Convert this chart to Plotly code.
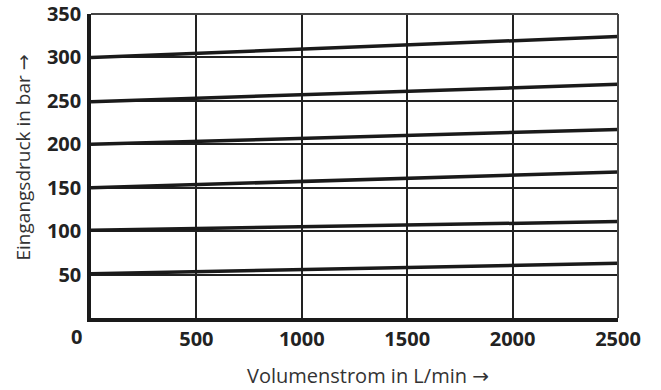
import plotly.graph_objects as go

# Data
flow = [0, 2500]  # Volumenstrom in L/min
curves = {
    "300 bar": [300, 324],
    "250 bar": [249, 269],
    "200 bar": [200, 217],
    "150 bar": [150, 168],
    "100 bar": [101, 111],
    "50 bar": [51, 63],
}
x_ticks = [500, 1000, 1500, 2000, 2500]
y_ticks = [50, 100, 150, 200, 250, 300, 350]

tick_font = dict(family="Open Sans", size=20, color="#222", weight="bold")
ARROW = "<span style='font-family:DejaVu Sans'>\u2192</span>"

fig = go.Figure()
for name, vals in curves.items():
    fig.add_trace(go.Scatter(x=flow, y=vals, mode="lines", name=name,
                             line=dict(color="#1a1a1a", width=3.5),
                             showlegend=False, hoverinfo="skip"))

fig.update_layout(
    width=661, height=390,
    margin=dict(l=91, r=43, t=14, b=72),
    paper_bgcolor="white", plot_bgcolor="white",
    xaxis=dict(range=[0, 2500], tickvals=x_ticks,
               ticktext=[str(v) for v in x_ticks],
               showgrid=True, gridcolor="#222", gridwidth=1.5,
               showline=True, linecolor="#1a1a1a", linewidth=3.5,
               ticks="",
               tickfont=tick_font, zeroline=False, automargin=False,
               layer="above traces"),
    yaxis=dict(range=[0, 350], tickvals=y_ticks,
               ticktext=[str(v) for v in y_ticks],
               showgrid=True, gridcolor="#222", gridwidth=1.5,
               showline=True, linecolor="#1a1a1a", linewidth=3.5,
               ticks="outside", ticklen=2, tickcolor="rgba(0,0,0,0)",
               tickfont=tick_font, zeroline=False, automargin=False,
               layer="above traces"),
    shapes=[
        dict(type="line", xref="paper", yref="paper", x0=0, x1=1, y0=1, y1=1,
             line=dict(color="#444", width=2)),
        dict(type="line", xref="paper", yref="paper", x0=1, x1=1, y0=0, y1=1,
             line=dict(color="#444", width=2)),
    ],
    annotations=[
        dict(text="0", xref="paper", yref="paper", x=-0.027, y=-0.062,
             showarrow=False, xanchor="center", yanchor="middle",
             font=tick_font),
        dict(text="Volumenstrom in L/min " + ARROW, xref="paper", yref="paper",
             x=0.525, y=-0.1875, showarrow=False, xanchor="center",
             yanchor="middle",
             font=dict(family="Open Sans", size=20, color="#333")),
        dict(text="Eingangsdruck in bar " + ARROW, xref="paper", yref="paper",
             x=-0.129, y=0.528, showarrow=False, xanchor="center",
             yanchor="middle", textangle=-90,
             font=dict(family="Open Sans", size=19, color="#333")),
    ],
)

fig.write_html("out.html",
               config={"displayModeBar": False},
               post_script="document.body.style.margin='0';"
                           "document.body.style.overflow='hidden';")
